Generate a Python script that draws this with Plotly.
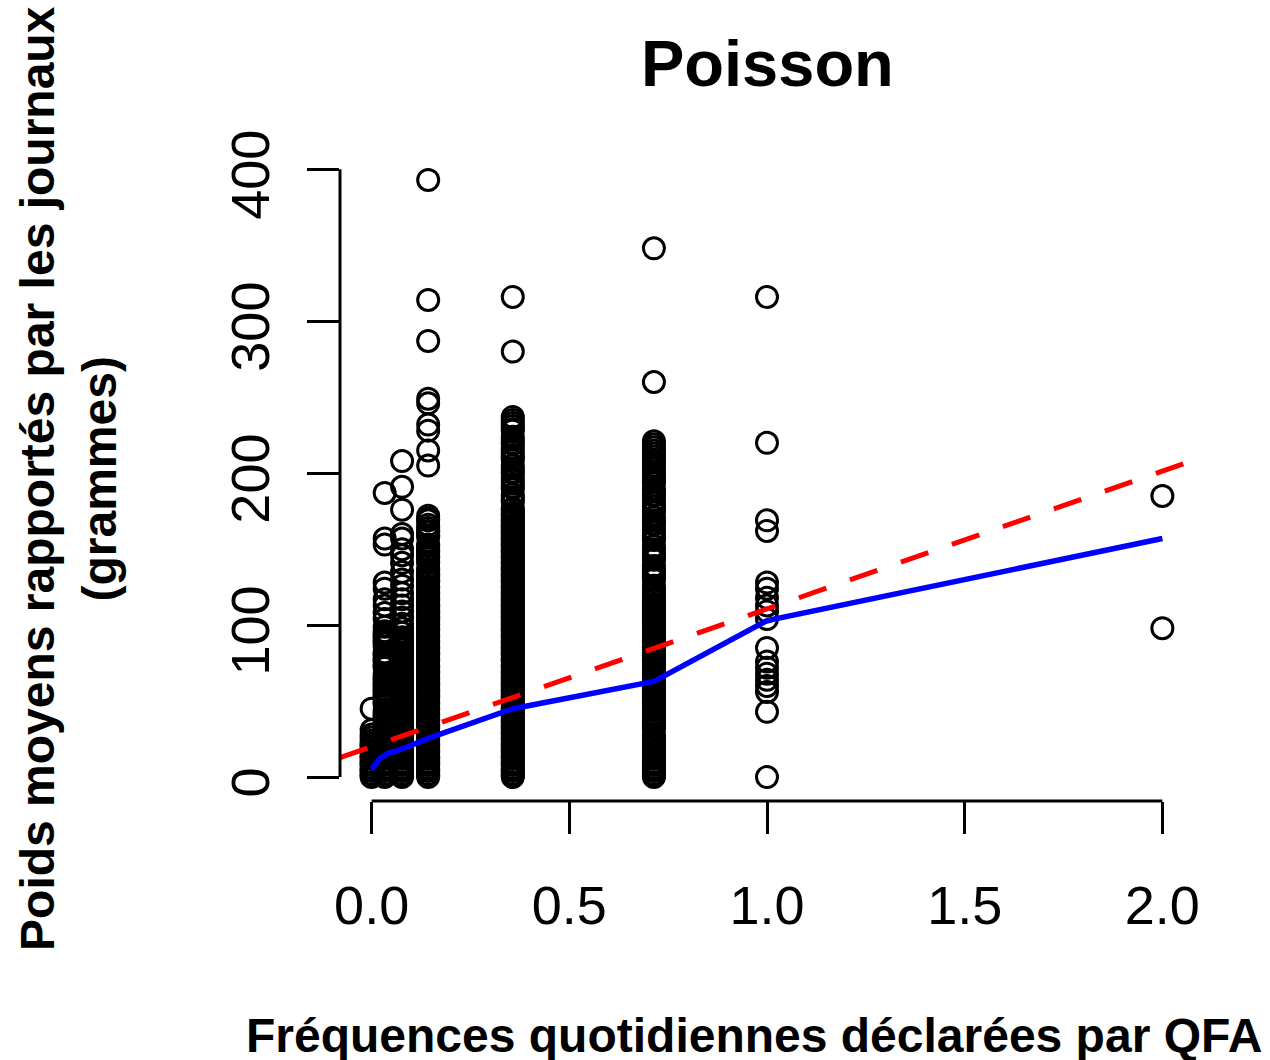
import plotly.graph_objects as go

# Declared daily frequencies (QFA) for each column of points
freq_levels = [0.0, 0.033, 0.077, 0.143, 0.357, 0.714, 1.0, 2.0]

# Reported mean weights (grams) per frequency level
w_f0000 = [0, 1, 2, 4, 5, 6, 8, 9, 10, 12, 13, 14, 16, 17, 18, 20, 21, 22, 24, 26, 28, 31, 45]
w_f0033 = [0, 1, 2, 4, 5, 6, 8, 9, 10, 12, 13, 14, 16, 17, 18, 20, 21, 22, 24, 25, 26, 28,
           29, 30, 32, 33, 34, 36, 37, 38, 40, 41, 42, 44, 48, 49, 50, 52, 53, 54, 56, 57,
           58, 60, 61, 62, 64, 65, 66, 68, 72, 73, 74, 76, 77, 78, 80, 81, 82, 86, 88, 89,
           90, 92, 93, 94, 96, 99, 104, 108, 113, 117, 124, 128, 153, 157, 187]
w_f0077 = [0, 1, 2, 4, 5, 6, 8, 9, 10, 12, 13, 14, 16, 17, 18, 20, 21, 22, 24, 25, 26, 28,
           29, 30, 32, 33, 34, 36, 37, 38, 40, 41, 42, 44, 45, 46, 48, 49, 50, 52, 53, 54,
           56, 57, 58, 60, 61, 62, 64, 65, 66, 68, 69, 70, 72, 73, 74, 76, 77, 78, 80, 81,
           82, 84, 85, 86, 88, 89, 90, 92, 95, 98, 101, 105, 109, 113, 117, 121, 126, 130,
           135, 141, 146, 150, 157, 160, 176, 191, 208]
w_f0143 = [0, 1, 2, 4, 5, 6, 8, 9, 10, 12, 13, 14, 16, 17, 18, 20, 21, 22, 24, 25, 26, 28,
           29, 30, 32, 33, 34, 36, 37, 38, 40, 41, 42, 44, 45, 46, 48, 49, 50, 52, 53, 54,
           56, 57, 58, 60, 61, 62, 64, 65, 66, 68, 69, 70, 72, 73, 74, 76, 77, 78, 80, 81,
           82, 84, 85, 86, 88, 89, 90, 92, 93, 94, 96, 97, 98, 100, 101, 102, 104, 105, 106,
           108, 109, 110, 112, 113, 114, 116, 117, 118, 120, 121, 122, 124, 125, 126, 128,
           129, 130, 132, 133, 134, 136, 137, 141, 142, 144, 145, 146, 148, 149, 150, 152,
           153, 158, 159, 161, 162, 164, 166, 169, 170, 172,
           205, 215, 228, 232, 246, 249, 287, 314, 393]
w_f0357 = [0, 1, 2, 4, 5, 6, 8, 9, 10, 12, 13, 14, 16, 17, 18, 20, 21, 22, 24, 25, 26, 28,
           29, 30, 32, 33, 34, 36, 37, 38, 40, 41, 42, 44, 45, 46, 48, 49, 50, 52, 53, 54,
           56, 57, 58, 60, 61, 62, 64, 65, 66, 68, 69, 70, 72, 73, 74, 76, 77, 78, 80, 81,
           82, 84, 85, 86, 88, 89, 90, 92, 93, 94, 96, 97, 98, 100, 101, 102, 104, 105, 106,
           108, 109, 110, 112, 113, 114, 116, 117, 118, 120, 121, 122, 124, 125, 126, 128,
           129, 130, 132, 133, 134, 136, 137, 138, 140, 141, 142, 144, 145, 146, 148, 149,
           150, 152, 153, 154, 156, 157, 158, 160, 161, 162, 164, 165, 166, 168, 169, 170,
           172, 173, 174, 176, 177, 181, 182, 184, 186, 190, 191, 193, 195, 197, 200, 201,
           203, 205, 209, 210, 212, 214, 216, 219, 220, 222, 224, 228, 229, 231, 233, 235,
           237, 280, 316]
w_f0714 = [0, 1, 2, 4, 5, 6, 8, 9, 10, 12, 13, 14, 16, 17, 18, 20, 21, 22, 24, 25, 26, 28,
           32, 33, 34, 36, 37, 38, 40, 41, 42, 44, 45, 46, 48, 49, 50, 52, 53, 54, 56, 57,
           58, 60, 61, 62, 64, 65, 66, 68, 69, 70, 72, 73, 74, 76, 77, 78, 80, 81, 82, 84,
           85, 86, 88, 89, 90, 92, 93, 94, 96, 97, 98, 100, 101, 102, 104, 105, 106, 108,
           109, 110, 112, 113, 114, 116, 117, 118, 121, 122, 124, 126, 130, 131, 133, 135,
           137, 139, 143, 144, 146, 148, 150, 152, 156, 157, 159, 161, 163, 166, 167, 169,
           171, 175, 176, 178, 180, 182, 185, 186, 188, 190, 194, 195, 197, 199, 201, 203,
           205, 207, 209, 211, 213, 215, 217, 219, 221, 260, 348]
w_f1000 = [0, 43, 56, 60, 64, 68, 72, 76, 85, 104, 109, 113, 118, 124, 128, 162, 169, 220, 316]
w_f2000 = [98, 185]

# Fitted curve (blue) and linear fit (red dashed: intercept, slope)
fitted_x = [0.0, 0.02, 0.04, 0.077, 0.143, 0.357, 0.714, 1.0, 2.0]
fitted_y = [5, 12, 15.5, 18.5, 25.5, 45, 63, 103, 157]
lin_coef = [20.0, 90.7]

x_tickvals = [0.0, 0.5, 1.0, 1.5, 2.0]
x_ticktext = ["0.0", "0.5", "1.0", "1.5", "2.0"]
y_tickvals = [0, 100, 200, 300, 400]
y_ticktext = ["0", "100", "200", "300", "400"]

columns = [w_f0000, w_f0033, w_f0077, w_f0143, w_f0357, w_f0714, w_f1000, w_f2000]
xs, ys = [], []
for lvl, vals in zip(freq_levels, columns):
    xs += [lvl] * len(vals)
    ys += vals

# R-style 4% axis extension
xmin, xmax = min(xs), max(xs)
ymin, ymax = min(ys), max(ys)
xpad = 0.04 * (xmax - xmin)
ypad = 0.04 * (ymax - ymin)
xr = [xmin - xpad, xmax + xpad]
yr = [ymin - ypad, ymax + ypad]

FONT = "Liberation Sans, Arial, sans-serif"

fig = go.Figure()
fig.add_trace(go.Scatter(
    x=xs, y=ys, mode="markers",
    marker=dict(symbol="circle-open", size=21, color="black", line=dict(width=3)),
    showlegend=False, hoverinfo="skip"))
fig.add_trace(go.Scatter(
    x=xr, y=[lin_coef[0] + lin_coef[1] * v for v in xr], mode="lines",
    line=dict(color="#ff0000", width=5, dash="29px,25px"), showlegend=False))
fig.add_trace(go.Scatter(
    x=fitted_x, y=fitted_y, mode="lines",
    line=dict(color="#0000ff", width=5.5), showlegend=False))

axis_common = dict(showgrid=False, zeroline=False, showline=False, ticks="outside",
                   ticklen=32, tickwidth=3, tickcolor="black",
                   tickfont=dict(family=FONT, size=54, color="black"))
fig.update_xaxes(range=xr, tickmode="array", tickvals=x_tickvals, ticktext=x_ticktext,
                 ticklabelstandoff=25, **axis_common)
fig.update_yaxes(range=yr, tickmode="array", tickvals=y_tickvals,
                 ticktext=[t + "\u2002" for t in y_ticktext],
                 tickangle=-90, ticklabelstandoff=16, **axis_common)

fig.add_shape(type="line", xref="paper", yref="y", x0=0, x1=0,
              y0=y_tickvals[0], y1=y_tickvals[-1], line=dict(color="black", width=3))
fig.add_shape(type="line", xref="x", yref="paper", x0=x_tickvals[0], x1=x_tickvals[-1],
              y0=0, y1=0, line=dict(color="black", width=3))

fig.add_annotation(text="<b>Poisson</b>", xref="paper", yref="paper", x=0.5, y=1.144,
                   xanchor="center", yanchor="middle", showarrow=False,
                   font=dict(family=FONT, size=65, color="black"))
fig.add_annotation(text="<b>Fréquences quotidiennes déclarées par QFA</b>",
                   xref="paper", yref="paper", x=0.4848, y=-0.3628,
                   xanchor="center", yanchor="middle", showarrow=False,
                   font=dict(family=FONT, size=48, color="black"))
fig.add_annotation(text="<b>Poids moyens rapportés par les journaux<br>(grammes)</b>",
                   xref="paper", yref="paper", x=-0.318, y=0.5, textangle=-90,
                   xanchor="center", yanchor="middle", showarrow=False,
                   font=dict(family=FONT, size=48, color="black"))

fig.update_layout(width=1270, height=1060, margin=dict(l=340, r=76, t=156, b=259),
                  plot_bgcolor="white", paper_bgcolor="white")

fig.write_html("out.html", config={"displayModeBar": False},
               post_script="document.body.style.margin='0';")
